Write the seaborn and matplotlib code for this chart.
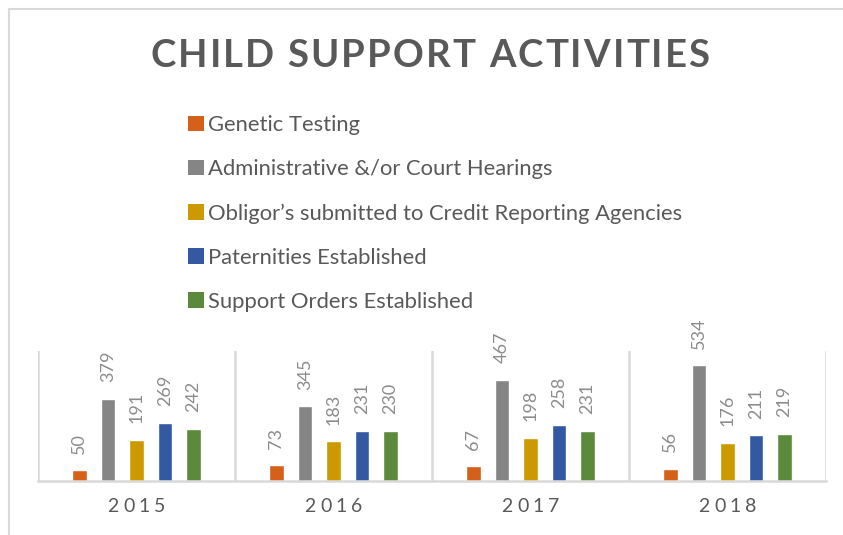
import matplotlib
matplotlib.use("Agg")
import matplotlib.pyplot as plt
from matplotlib.lines import Line2D
from matplotlib.patches import Patch
from matplotlib.transforms import IdentityTransform
from matplotlib.font_manager import FontProperties
import seaborn as sns
import pandas as pd

years = ["2015", "2016", "2017", "2018"]
series = [
    "Genetic Testing",
    "Administrative &/or Court Hearings",
    "Obligor\u2019s submitted to Credit Reporting Agencies",
    "Paternities Established",
    "Support Orders Established",
]
genetic_testing = [50, 73, 67, 56]
hearings = [379, 345, 467, 534]
credit_reporting = [191, 183, 198, 176]
paternities = [269, 231, 258, 211]
support_orders = [242, 230, 231, 219]
colors = ["#D4601A", "#858585", "#CC9A00", "#3359A3", "#5B8A3B"]

values = [genetic_testing, hearings, credit_reporting, paternities, support_orders]
df = pd.DataFrame(
    [(y, s, v[i]) for s, v in zip(series, values) for i, y in enumerate(years)],
    columns=["year", "activity", "count"],
)

sns.set_theme(style="white")
plt.rcParams["font.family"] = ["Lato", "DejaVu Sans"]
TEXT = "#595959"

W, H = 843, 535
fig = plt.figure(figsize=(W / 100, H / 100), dpi=100)
ax = fig.add_axes([38 / W, 54 / H, (826 - 38) / W, 130 / H])

sns.barplot(data=df, x="year", y="count", hue="activity", hue_order=series,
            order=years, palette=colors, width=0.725, gap=0.48,
            saturation=1, ax=ax, legend=False)

ax.set_ylim(0, 600)
ax.set_xlim(-0.5, 3.5)
ax.set_xlabel("")
ax.set_ylabel("")
ax.set_yticks([])
ax.set_xticks(range(len(years)))
ax.set_xticklabels([])
ax.tick_params(axis="x", length=0)
for side in ["top", "right", "left"]:
    ax.spines[side].set_visible(False)
ax.spines["bottom"].set_color("#D9D9D9")
ax.spines["bottom"].set_linewidth(1.8)

# group separators
for xb in [-0.5, 0.5, 1.5, 2.5, 3.5]:
    ax.axvline(xb, color="#D9D9D9", lw=1.8, zorder=0)

# value labels
for cont in ax.containers:
    ax.bar_label(cont, rotation=90, padding=12, color="#8C8C8C",
                 fontsize=13, clip_on=False)

# legend with plain square swatches
handles = [Patch(facecolor=c, edgecolor="none", linewidth=0) for c in colors]
ax.legend(handles, series, loc="upper left",
          bbox_to_anchor=(188 / W, 1 - 115 / H), bbox_transform=fig.transFigure,
          frameon=False, fontsize=15.8, labelcolor=TEXT, handlelength=0.72,
          handleheight=0.72, handletextpad=0.18, labelspacing=1.1,
          borderpad=0, borderaxespad=0)

renderer = fig.canvas.get_renderer()


def spaced_text(cx, cy, s, tracking, size, weight="normal", color=TEXT):
    """Draw letter-spaced text centred on pixel position (cx, cy from top)."""
    fp = FontProperties(family=["Lato", "DejaVu Sans"], size=size, weight=weight)

    def width(t):
        return renderer.get_text_width_height_descent(t, fp, ismath=False)[0]

    space = width("a a") - width("aa")
    widths = [space if ch == " " else width(ch) for ch in s]
    total = sum(widths) + tracking * (len(s) - 1)
    x = cx - total / 2
    for ch, w in zip(s, widths):
        fig.text(x, H - cy, ch, transform=IdentityTransform(), fontproperties=fp,
                 color=color, ha="left", va="center")
        x += w + tracking


spaced_text(430, 56, "CHILD SUPPORT ACTIVITIES", 2.1, 27.5, weight="bold")

for i, y in enumerate(years):
    px = ax.transData.transform((i, 0))[0]
    spaced_text(px, 506, y, 4.2, 14)

# chart frame
fig.add_artist(Line2D([9 / W, 1], [1 - 9 / H, 1 - 9 / H], color="#D9D9D9", lw=1.5,
                      transform=fig.transFigure))
fig.add_artist(Line2D([9 / W, 9 / W], [0, 1 - 9 / H], color="#D9D9D9", lw=1.5,
                      transform=fig.transFigure))

fig.savefig("out.png", dpi=100)
